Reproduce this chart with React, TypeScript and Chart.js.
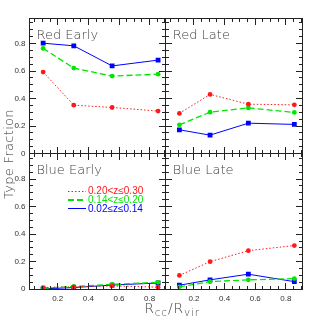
import React, { useEffect, useRef } from 'react';
import { Chart, registerables } from 'chart.js';

Chart.register(...registerables);

// ---------- data ----------
const xValues = [0.105, 0.305, 0.555, 0.855];
const xTickLabels = [0.2, 0.4, 0.6, 0.8];
const yTickLabels = [0, 0.2, 0.4, 0.6, 0.8];
const seriesLabels = ['0.20<z\u22640.30', '0.14<z\u22640.20', '0.02\u2264z\u22640.14'];
const panelTitles = ['Red Early', 'Red Late', 'Blue Early', 'Blue Late'];

// Red Early
const redEarlyHighZ = [0.592, 0.352, 0.335, 0.309];
const redEarlyMidZ = [0.764, 0.621, 0.563, 0.577];
const redEarlyLowZ = [0.802, 0.783, 0.637, 0.679];
// Red Late
const redLateHighZ = [0.292, 0.43, 0.359, 0.354];
const redLateMidZ = [0.209, 0.301, 0.332, 0.299];
const redLateLowZ = [0.173, 0.134, 0.221, 0.212];
// Blue Early
const blueEarlyHighZ = [0.012, 0.017, 0.024, 0.015];
const blueEarlyMidZ = [0.007, 0.02, 0.035, 0.05];
const blueEarlyLowZ = [0.002, 0.012, 0.03, 0.045];
// Blue Late
const blueLateHighZ = [0.1, 0.2, 0.28, 0.317];
const blueLateMidZ = [0.017, 0.055, 0.068, 0.077];
const blueLateLowZ = [0.029, 0.068, 0.109, 0.055];

const panelSeries = [
  [redEarlyHighZ, redEarlyMidZ, redEarlyLowZ],
  [redLateHighZ, redLateMidZ, redLateLowZ],
  [blueEarlyHighZ, blueEarlyMidZ, blueEarlyLowZ],
  [blueLateHighZ, blueLateMidZ, blueLateLowZ],
];

// ---------- layout / style ----------
const W = 319;
const H = 319;
const FRAME = { left: 29.5, right: 302, top: 18, bottom: 289.2 };
const MIDX = (FRAME.left + FRAME.right) / 2;
const MIDY = (FRAME.top + FRAME.bottom) / 2;
const X_MIN = 0.016;
const X_MAX = 0.905;
const Y_MIN = 0;
const Y_MAX = 0.985;
const Y_AXIS_W = 26;
const X_AXIS_H = 16;
const MINOR_STEP = 0.05;

const seriesStyles = [
  { color: '#ff1a1a', dash: [1.5, 2], width: 1, pointStyle: 'circle', radius: 2.4 },
  { color: '#00e600', dash: [6, 3], width: 1.3, pointStyle: 'circle', radius: 2.4 },
  { color: '#0000ff', dash: [], width: 1, pointStyle: 'rect', radius: 3.4 },
];

const AXIS_COLOR = '#222222';
const TEXT_COLOR = '#444444';

const decorPlugin = {
  id: 'panelDecor',
  afterDraw(chart: any, _args: any, opts: any) {
    const { ctx, chartArea } = chart;
    const xs = chart.scales.x;
    const ys = chart.scales.y;
    const L = Math.floor(chartArea.left);
    const R = Math.floor(chartArea.right);
    const T = Math.floor(chartArea.top);
    const B = Math.floor(chartArea.bottom);
    ctx.save();
    ctx.globalAlpha = 1;
    ctx.globalCompositeOperation = 'source-over';
    ctx.fillStyle = AXIS_COLOR;
    ctx.fillRect(L, T, R - L + 1, 1);
    ctx.fillRect(L, B, R - L + 1, 1);
    ctx.fillRect(L, T, 1, B - T + 1);
    ctx.fillRect(R, T, 1, B - T + 1);
    const nx = Math.floor(X_MAX / MINOR_STEP);
    for (let i = 1; i <= nx; i++) {
      const v = i * MINOR_STEP;
      if (v <= X_MIN || v >= X_MAX) continue;
      const len = i % 4 === 0 ? 6 : 3;
      const px = Math.floor(xs.getPixelForValue(v));
      ctx.fillRect(px, B - len, 1, len);
      ctx.fillRect(px, T + 1, 1, len);
    }
    const ny = Math.floor(Y_MAX / MINOR_STEP);
    for (let i = 1; i <= ny; i++) {
      const v = i * MINOR_STEP;
      if (v >= Y_MAX) continue;
      const len = i % 4 === 0 ? 6 : 3;
      const py = Math.floor(ys.getPixelForValue(v));
      ctx.fillRect(L + 1, py, len, 1);
      ctx.fillRect(R - len, py, len, 1);
    }

    ctx.fillStyle = TEXT_COLOR;
    ctx.font = '300 13px "DejaVu Sans"';
    ctx.textBaseline = 'alphabetic';
    ctx.textAlign = 'left';
    ctx.fillText(opts.title, chartArea.left + 7, chartArea.top + 20.7);
    if (opts.legend) {
      const ds = chart.data.datasets;
      ds.forEach((d: any, i: number) => {
        const yy = chartArea.top + 37.4 + i * 8.7;
        const x0 = chartArea.left + 38.5;
        const x1 = chartArea.left + 56.5;
        ctx.fillStyle = d.borderColor;
        const dash: number[] = d.borderDash && d.borderDash.length ? d.borderDash : [100, 0];
        const th = i === 1 ? 2 : 1;
        let x = x0;
        let k = 0;
        while (x < x1) {
          const seg = dash[k % 2];
          if (k % 2 === 0) ctx.fillRect(x, Math.round(yy - th / 2), Math.min(seg, x1 - x), th);
          x += seg;
          k++;
        }
        ctx.font = '10px "Liberation Sans"';
        ctx.textBaseline = 'middle';
        ctx.fillText(d.label, chartArea.left + 58.5, yy + 0.5);
      });
    }
    ctx.restore();
  },
};

type PanelProps = { index: number };

function Panel({ index }: PanelProps) {
  const ref = useRef<HTMLCanvasElement | null>(null);
  useEffect(() => {
    if (!ref.current) return;
    const col = index % 2;
    const row = Math.floor(index / 2);
    const aLeft = col === 0 ? FRAME.left : MIDX;
    const aRight = col === 0 ? MIDX : FRAME.right;
    const aTop = row === 0 ? FRAME.top : MIDY;
    const aBottom = row === 0 ? MIDY : FRAME.bottom;
    const showX = row === 1;
    const showY = col === 0;
    const yW = showY ? Y_AXIS_W : 0;
    const xH = showX ? X_AXIS_H : 0;
    const series = panelSeries[index];
    const tickFont = { family: '"Liberation Sans"', size: 8 };
    const chart = new Chart(ref.current, {
      type: 'line',
      data: {
        datasets: series.map((vals, i) => ({
          label: seriesLabels[i],
          data: xValues.map((x, j) => ({ x, y: vals[j] })),
          borderColor: seriesStyles[i].color,
          backgroundColor: seriesStyles[i].color,
          borderWidth: seriesStyles[i].width,
          borderDash: seriesStyles[i].dash,
          pointStyle: seriesStyles[i].pointStyle as any,
          pointRadius: seriesStyles[i].radius,
          pointBorderWidth: 0,
          pointBackgroundColor: seriesStyles[i].color,
          tension: 0,
          fill: false,
        })),
      },
      options: {
        responsive: false,
        animation: false,
        layout: {
          padding: { left: aLeft - yW, right: W - aRight, top: aTop, bottom: H - aBottom - xH },
        },
        scales: {
          x: {
            type: 'linear',
            min: X_MIN,
            max: X_MAX,
            afterFit: (s: any) => { s.height = xH; },
            afterBuildTicks: (s: any) => { s.ticks = xTickLabels.map((v) => ({ value: v })); },
            grid: { display: false, drawTicks: false },
            border: { display: false },
            ticks: {
              display: showX,
              padding: 5,
              font: tickFont,
              color: '#333333',
              autoSkip: false,
              maxRotation: 0,
              callback: (v: any) => String(v),
            },
          },
          y: {
            type: 'linear',
            min: Y_MIN,
            max: Y_MAX,
            afterFit: (s: any) => { s.width = yW; },
            afterBuildTicks: (s: any) => { s.ticks = yTickLabels.map((v) => ({ value: v })); },
            grid: { display: false, drawTicks: false },
            border: { display: false },
            ticks: {
              display: showY,
              padding: 4,
              font: tickFont,
              color: '#333333',
              autoSkip: false,
              callback: (v: any) => String(v),
            },
          },
        },
        plugins: {
          legend: { display: false },
          tooltip: { enabled: false },
          panelDecor: { title: panelTitles[index], legend: index === 2 },
        } as any,
      },
      plugins: [decorPlugin],
    });
    return () => chart.destroy();
  }, [index]);
  return (
    <canvas
      ref={ref}
      width={W}
      height={H}
      style={{ position: 'absolute', left: 0, top: 0, width: W, height: H }}
    />
  );
}

export default function App() {
  const titleFont: React.CSSProperties = {
    fontFamily: '"DejaVu Sans"',
    fontWeight: 300,
    color: TEXT_COLOR,
    whiteSpace: 'nowrap',
    position: 'absolute',
  };
  return (
    <div style={{ position: 'absolute', left: 0, top: 0, width: W, height: H, background: '#fff', overflow: 'hidden' }}>
      {[0, 1, 2, 3].map((i) => (
        <Panel key={i} index={i} />
      ))}
      <div
        style={{
          ...titleFont,
          fontSize: 13,
          lineHeight: '14px',
          letterSpacing: 0.3,
          width: 200,
          textAlign: 'center',
          left: 9 - 100,
          top: 154 - 7,
          transform: 'rotate(-90deg)',
          transformOrigin: '50% 50%',
        }}
      >
        Type Fraction
      </div>
      <div
        style={{
          ...titleFont,
          fontSize: 14,
          lineHeight: '14px',
          letterSpacing: 0.8,
          width: 200,
          textAlign: 'center',
          left: 172 - 100,
          top: 301,
        }}
      >
        R<span style={{ fontSize: 10.5, position: 'relative', top: 3 }}>cc</span>/R
        <span style={{ fontSize: 10.5, position: 'relative', top: 3 }}>vir</span>
      </div>
    </div>
  );
}
